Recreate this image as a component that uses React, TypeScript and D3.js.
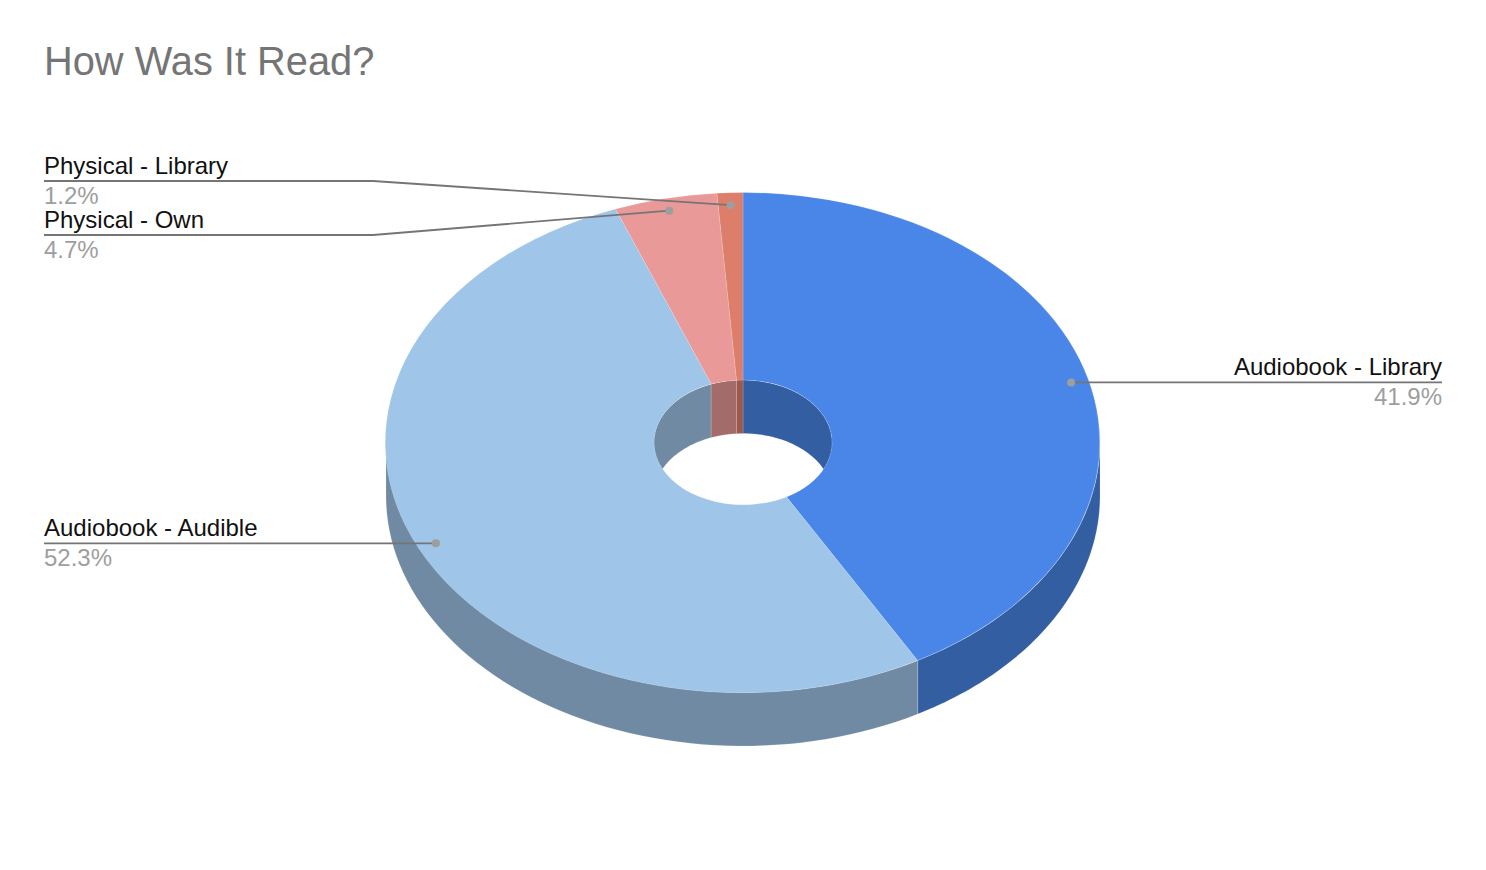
import React from 'react';
import * as d3 from 'd3';

const categories = ['Audiobook - Library', 'Audiobook - Audible', 'Physical - Own', 'Physical - Library'];
const bookCounts = [36, 45, 4, 1];
const sliceColors = ['#4a86e8', '#9fc5e8', '#ea9999', '#dd7e6b'];
const title = 'How Was It Read?';

const width = 1486;
const height = 870;
const cx = 743;
const cy = 442.5;
const rx = 357;
const ry = 250;
const depth = 53.5;
const holeRatio = 0.25;
const dotRatio = 0.95;
const FONT = '"Liberation Sans", Arial, sans-serif';

// where each leader ends, same order as categories
const leaders = [
  { side: 'right', elbowX: null, lineY: null },
  { side: 'left', elbowX: null, lineY: null },
  { side: 'left', elbowX: 373, lineY: 235 },
  { side: 'left', elbowX: 373, lineY: 181 },
];
const leftX = 44;
const rightX = 1442;

const wallColor = (c: string) => {
  const rgb = d3.rgb(c);
  return d3.rgb(rgb.r * 0.7, rgb.g * 0.7, rgb.b * 0.7).formatHex();
};

const total = d3.sum(bookCounts);
const pie = d3.pie<number>().sort(null).value(d => d);
const slices = pie(bookCounts);

const arc = d3.arc<d3.PieArcDatum<number>>().innerRadius(holeRatio).outerRadius(1);

const project = (a: number, k: number, dy = 0): [number, number] => [
  cx + rx * k * Math.sin(a),
  cy - ry * k * Math.cos(a) + dy,
];

const line = d3.line();

// side band between the top ellipse and the same ellipse moved down by depth
const wallPath = (a0: number, a1: number, k: number) => {
  if (a1 <= a0) return '';
  const steps = d3.range(0, 61).map(i => a0 + ((a1 - a0) * i) / 60);
  const top = steps.map(a => project(a, k));
  const bottom = steps.slice().reverse().map(a => project(a, k, depth));
  return line([...top, ...bottom]) + 'Z';
};

export default function App() {
  const edge = { stroke: '#fff', strokeOpacity: 0.3, strokeWidth: 0.5 };
  return (
    <svg
      width={width}
      height={height}
      viewBox={`0 0 ${width} ${height}`}
      style={{ position: 'absolute', left: 0, top: 0, background: '#fff', fontFamily: FONT }}
    >
      <defs>
        <clipPath id="hole">
          <ellipse cx={cx} cy={cy} rx={rx * holeRatio} ry={ry * holeRatio} />
        </clipPath>
      </defs>

      <text x={44} y={75} fontSize={39.8} fill="#757575">{title}</text>

      {/* outer wall, front half only */}
      {slices.map((s, i) => (
        <path
          key={i}
          d={wallPath(Math.max(s.startAngle, Math.PI / 2), Math.min(s.endAngle, (Math.PI * 3) / 2), 1)}
          fill={wallColor(sliceColors[i])}
          {...edge}
        />
      ))}

      {/* inner wall of the hole, back half only */}
      <g clipPath="url(#hole)">
        {slices.map((s, i) => (
          <g key={i}>
            <path
              d={wallPath(Math.max(s.startAngle, (Math.PI * 3) / 2), s.endAngle, holeRatio)}
              fill={wallColor(sliceColors[i])}
              {...edge}
            />
            <path
              d={wallPath(s.startAngle, Math.min(s.endAngle, Math.PI / 2), holeRatio)}
              fill={wallColor(sliceColors[i])}
              {...edge}
            />
          </g>
        ))}
      </g>

      {/* top face */}
      <g transform={`translate(${cx},${cy}) scale(${rx},${ry})`}>
        {slices.map((s, i) => (
          <path
            key={i}
            d={arc(s) as string}
            fill={sliceColors[i]}
            {...edge}
            vectorEffect="non-scaling-stroke"
          />
        ))}
      </g>

      {/* leaders and labels */}
      {slices.map((s, i) => {
        const mid = (s.startAngle + s.endAngle) / 2;
        const [dx, dy] = project(mid, dotRatio);
        const l = leaders[i];
        const y = l.lineY ?? dy;
        const endX = l.side === 'left' ? leftX : rightX;
        const pts: [number, number][] = l.elbowX != null
          ? [[dx, dy], [l.elbowX, y], [endX, y]]
          : [[dx, y], [endX, y]];
        const anchor = l.side === 'left' ? 'start' : 'end';
        const pct = d3.format('.1%')(bookCounts[i] / total);
        return (
          <g key={i}>
            <path d={line(pts) as string} fill="none" stroke="#757575" strokeWidth={1.8} />
            <circle cx={dx} cy={dy} r={4} fill="#9e9e9e" />
            <text x={endX} y={y - 7} fontSize={24} textAnchor={anchor} fill="#111">{categories[i]}</text>
            <text x={endX} y={y + 23} fontSize={24} textAnchor={anchor} fill="#9e9e9e">{pct}</text>
          </g>
        );
      })}
    </svg>
  );
}
